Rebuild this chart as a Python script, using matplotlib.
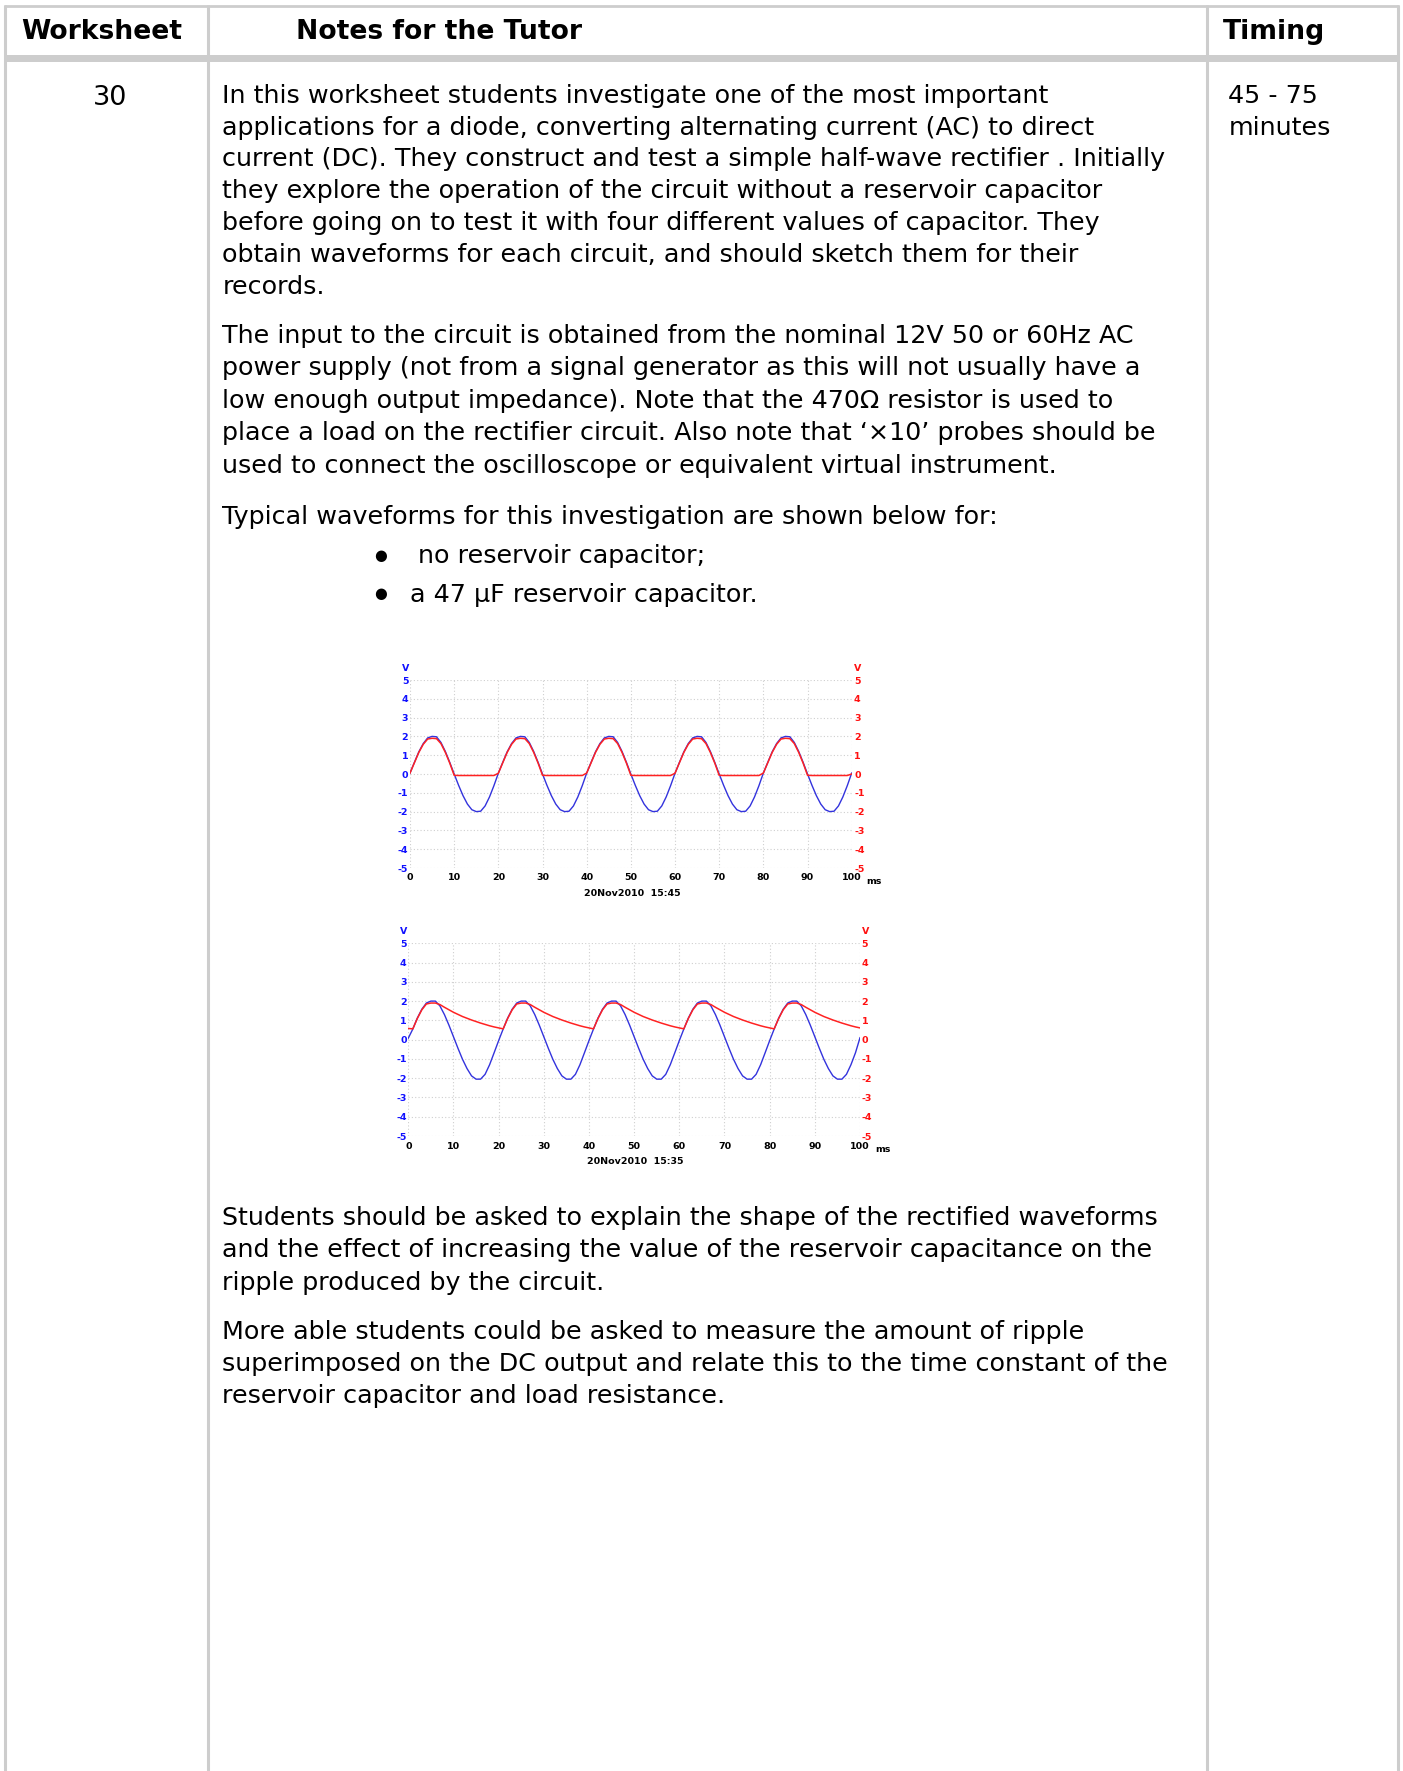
import matplotlib.pyplot as plt
import numpy as np

plt.rcParams['font.family'] = ['DejaVu Sans']

# ---- page text ----
header_labels = ['Worksheet', 'Notes for the Tutor', 'Timing']
worksheet_no = '30'
timing_lines = ['45 - 75', 'minutes']

para1 = ['In this worksheet students investigate one of the most important',
         'applications for a diode, converting alternating current (AC) to direct',
         'current (DC). They construct and test a simple half-wave rectifier . Initially',
         'they explore the operation of the circuit without a reservoir capacitor',
         'before going on to test it with four different values of capacitor. They',
         'obtain waveforms for each circuit, and should sketch them for their',
         'records.']
para2 = ['The input to the circuit is obtained from the nominal 12V 50 or 60Hz AC',
         'power supply (not from a signal generator as this will not usually have a',
         'low enough output impedance). Note that the 470\u03a9 resistor is used to',
         'place a load on the rectifier circuit. Also note that \u2018\u00d710\u2019 probes should be',
         'used to connect the oscilloscope or equivalent virtual instrument.']
para3 = 'Typical waveforms for this investigation are shown below for:'
bullets = ['no reservoir capacitor;', 'a 47 \u00b5F reservoir capacitor.']
para4 = ['Students should be asked to explain the shape of the rectified waveforms',
         'and the effect of increasing the value of the reservoir capacitance on the',
         'ripple produced by the circuit.']
para5 = ['More able students could be asked to measure the amount of ripple',
         'superimposed on the DC output and relate this to the time constant of the',
         'reservoir capacitor and load resistance.']

# ---- scope data (ms, volts) ----
t_ms = np.arange(0, 101, 1)

# no reservoir capacitor
input1 = [0.05, 0.62, 1.18, 1.62, 1.92, 2.0, 1.98, 1.68, 1.2, 0.62, 0.0, -0.6, -1.15, -1.6, -1.9, -2.0, -1.98, -1.7, -1.22, -0.62,
          0.04, 0.62, 1.18, 1.62, 1.92, 2.0, 1.98, 1.68, 1.2, 0.62, 0.0, -0.6, -1.15, -1.6, -1.9, -2.0, -1.98, -1.7, -1.22, -0.62,
          0.05, 0.62, 1.18, 1.62, 1.92, 2.0, 1.98, 1.68, 1.2, 0.62, 0.0, -0.6, -1.15, -1.6, -1.9, -2.0, -1.98, -1.7, -1.22, -0.62,
          0.04, 0.62, 1.18, 1.62, 1.92, 2.0, 1.98, 1.68, 1.2, 0.62, 0.0, -0.6, -1.15, -1.6, -1.9, -2.0, -1.98, -1.7, -1.22, -0.62,
          0.05, 0.62, 1.18, 1.62, 1.92, 2.0, 1.98, 1.68, 1.2, 0.62, 0.0, -0.6, -1.15, -1.6, -1.9, -2.0, -1.98, -1.7, -1.22, -0.62,
          0.05]
output1 = [0.05, 0.6, 1.15, 1.58, 1.86, 1.9, 1.88, 1.62, 1.15, 0.58, -0.07, -0.08, -0.08, -0.08, -0.08, -0.08, -0.08, -0.08, -0.08, -0.08,
           0.04, 0.6, 1.15, 1.58, 1.86, 1.9, 1.88, 1.62, 1.15, 0.58, -0.07, -0.08, -0.08, -0.08, -0.08, -0.08, -0.08, -0.08, -0.08, -0.08,
           0.05, 0.6, 1.15, 1.58, 1.86, 1.9, 1.88, 1.62, 1.15, 0.58, -0.07, -0.08, -0.08, -0.08, -0.08, -0.08, -0.08, -0.08, -0.08, -0.08,
           0.04, 0.6, 1.15, 1.58, 1.86, 1.9, 1.88, 1.62, 1.15, 0.58, -0.07, -0.08, -0.08, -0.08, -0.08, -0.08, -0.08, -0.08, -0.08, -0.08,
           0.05, 0.6, 1.15, 1.58, 1.86, 1.9, 1.88, 1.62, 1.15, 0.58, -0.07, -0.08, -0.08, -0.08, -0.08, -0.08, -0.08, -0.08, -0.08, -0.08,
           0.0]

# 47uF reservoir capacitor
input2 = [0.08, 0.55, 1.12, 1.58, 1.9, 2.0, 2.0, 1.75, 1.3, 0.75, 0.15, -0.45, -1.02, -1.5, -1.88, -2.05, -2.05, -1.8, -1.3, -0.68,
          -0.05, 0.55, 1.12, 1.58, 1.9, 2.0, 2.0, 1.75, 1.3, 0.75, 0.15, -0.45, -1.02, -1.5, -1.88, -2.05, -2.05, -1.8, -1.3, -0.68,
          -0.05, 0.55, 1.12, 1.58, 1.9, 2.0, 2.0, 1.75, 1.3, 0.75, 0.15, -0.45, -1.02, -1.5, -1.88, -2.05, -2.05, -1.8, -1.3, -0.68,
          -0.05, 0.55, 1.12, 1.58, 1.9, 2.0, 2.0, 1.75, 1.3, 0.75, 0.15, -0.45, -1.02, -1.5, -1.88, -2.05, -2.05, -1.8, -1.3, -0.68,
          -0.05, 0.55, 1.12, 1.58, 1.9, 2.0, 2.0, 1.75, 1.3, 0.75, 0.15, -0.45, -1.02, -1.5, -1.88, -2.05, -2.05, -1.8, -1.3, -0.68,
          0.1]
output2 = [0.58, 0.56, 1.1, 1.55, 1.85, 1.9, 1.9, 1.82, 1.68, 1.55, 1.42, 1.31, 1.2, 1.11, 1.02, 0.94, 0.86, 0.79, 0.72, 0.66,
           0.61, 0.56, 1.1, 1.55, 1.85, 1.9, 1.9, 1.82, 1.68, 1.55, 1.42, 1.31, 1.2, 1.11, 1.02, 0.94, 0.86, 0.79, 0.72, 0.66,
           0.61, 0.56, 1.1, 1.55, 1.85, 1.9, 1.9, 1.82, 1.68, 1.55, 1.42, 1.31, 1.2, 1.11, 1.02, 0.94, 0.86, 0.79, 0.72, 0.66,
           0.61, 0.56, 1.1, 1.55, 1.85, 1.9, 1.9, 1.82, 1.68, 1.55, 1.42, 1.31, 1.2, 1.11, 1.02, 0.94, 0.86, 0.79, 0.72, 0.66,
           0.61, 0.56, 1.1, 1.55, 1.85, 1.9, 1.9, 1.82, 1.68, 1.55, 1.42, 1.31, 1.2, 1.11, 1.02, 0.94, 0.86, 0.79, 0.72, 0.66,
           0.61]

x_ticks = [0, 10, 20, 30, 40, 50, 60, 70, 80, 90, 100]
y_ticks = [-5, -4, -3, -2, -1, 0, 1, 2, 3, 4, 5]
stamps = ['20Nov2010  15:45', '20Nov2010  15:35']

W, H = 1403, 1771
fig = plt.figure(figsize=(W / 100, H / 100), dpi=100)
page = fig.add_axes([0, 0, 1, 1])
page.set_xlim(0, W)
page.set_ylim(H, 0)
page.axis('off')

# table lines
border = '#cdcdcd'
for x in [4.7, 207.5, 1206.5, 1397.8]:
    page.plot([x, x], [5, H], color=border, lw=2.2, solid_capstyle='butt')
page.plot([3.5, 1399], [6, 6], color=border, lw=2.0, solid_capstyle='butt')
page.fill_between([3.5, 1399], 55, 62, color=border, lw=0)

body = 18.3
page.text(101.7, 39.3, header_labels[0], fontsize=19.2, fontweight='bold', ha='center', va='baseline')
page.text(296, 39.3, header_labels[1], fontsize=19.2, fontweight='bold', ha='left', va='baseline')
page.text(1222.7, 39.3, header_labels[2], fontsize=19.2, fontweight='bold', ha='left', va='baseline')
page.text(109.7, 105.0, worksheet_no, fontsize=19.5, ha='center', va='baseline')
page.text(1228.3, 103.3, timing_lines[0], fontsize=body, ha='left', va='baseline')
page.text(1228.3, 135.0, timing_lines[1], fontsize=body, ha='left', va='baseline')

left = 222.5
for i, line in enumerate(para1):
    page.text(left, 102.7 + 31.8 * i, line, fontsize=body, va='baseline')
for i, line in enumerate(para2):
    page.text(left, 343.0 + 32.4 * i, line, fontsize=body, va='baseline')
page.text(left, 524.0, para3, fontsize=body, va='baseline')
page.text(381, 555.5, '\u25cf', fontsize=10.5, ha='center', va='center')
page.text(418, 563.0, bullets[0], fontsize=body, va='baseline')
page.text(381, 594.0, '\u25cf', fontsize=10.5, ha='center', va='center')
page.text(410, 601.7, bullets[1], fontsize=body, va='baseline')
for i, line in enumerate(para4):
    page.text(left, 1225.3 + 32.2 * i, line, fontsize=body, va='baseline')
for i, line in enumerate(para5):
    page.text(left, 1339.4 + 31.7 * i, line, fontsize=body, va='baseline')

# ---- scope charts ----
blue = '#1010ff'
red = '#ff1010'
charts = [
    dict(box=(410, 680, 851.7, 868), vin=input1, vout=output1, stamp=stamps[0], xpad=3.6, rpad=1.7),
    dict(box=(408.3, 943.3, 860, 1136), vin=input2, vout=output2, stamp=stamps[1], xpad=4.0, rpad=1.2),
]
tick_font = dict(fontsize=6.8, fontweight='bold')
for c in charts:
    x0, y0, x1, y1 = c['box']
    ax = fig.add_axes([x0 / W, 1 - y1 / H, (x1 - x0) / W, (y1 - y0) / H])
    ax.set_facecolor('none')
    ax.plot(t_ms, c['vin'], color='#3333dd', lw=1.0)
    ax.plot(t_ms, c['vout'], color='#ff2222', lw=1.1)
    ax.set_xlim(0, 100)
    ax.set_ylim(-5, 5)
    ax.set_xticks(x_ticks)
    ax.set_xticklabels([str(v) for v in x_ticks], **tick_font)
    ax.set_yticks(y_ticks)
    ax.set_yticklabels([str(v) for v in y_ticks], color=blue, **tick_font)
    ax.tick_params(axis='x', length=0, pad=c['xpad'])
    ax.tick_params(axis='y', length=0, pad=1.2)
    ax.grid(color='#cfcfcf', linestyle=(0, (1, 2)), lw=0.8)
    for s in ax.spines.values():
        s.set_visible(False)
    ax2 = ax.twinx()
    ax2.set_ylim(-5, 5)
    ax2.set_yticks(y_ticks)
    ax2.set_yticklabels([str(v) for v in y_ticks], color=red, **tick_font)
    ax2.tick_params(axis='y', length=0, pad=c['rpad'])
    for s in ax2.spines.values():
        s.set_visible(False)

    w = x1 - x0
    h = y1 - y0
    ax.text(-4.5 / w, 1 + 12 / h, 'V', transform=ax.transAxes, color=blue, ha='center', va='center', **tick_font)
    ax.text(1 + 5.5 / w, 1 + 12 / h, 'V', transform=ax.transAxes, color=red, ha='center', va='center', **tick_font)
    ax.text(1 + 15 / w, -13 / h, 'ms', transform=ax.transAxes, ha='left', va='center', **tick_font)
    ax.text(0.503, -25 / h, c['stamp'], transform=ax.transAxes, ha='center', va='center', **tick_font)

fig.savefig('out.png', dpi=100)
